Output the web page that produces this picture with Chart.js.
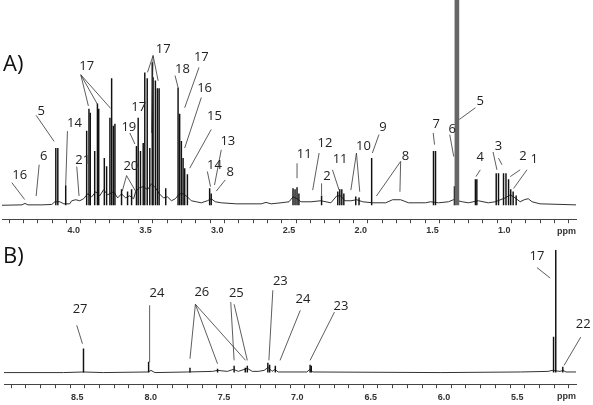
<!DOCTYPE html>
<html>
<head>
<meta charset="utf-8">
<script src="https://cdn.jsdelivr.net/npm/chart.js@4.4.0/dist/chart.umd.min.js"></script>
<style>
  html, body { margin: 0; padding: 0; background: #fff; }
  #wrap { position: relative; width: 593px; height: 405px; overflow: hidden; }
  canvas { position: absolute; left: 0; }
  #specA { top: 0; }
  #specB { top: 240px; }
  .tag { position: absolute; left: 3px; font: 22px 'Open Sans', sans-serif; line-height: 1; color: #111; }
</style>
</head>
<body>
<div id="wrap">
  <canvas id="specA" width="593" height="240"></canvas>
  <canvas id="specB" width="593" height="169"></canvas>
  <div class="tag" style="top:51px">A)</div>
  <div class="tag" style="top:243px">B)</div>
</div>
<script>
// ---- Panel A: aliphatic region (4.5 - 0.5 ppm) ----
const A_TICK_LABELS = ['4.0', '3.5', '3.0', '2.5', '2.0', '1.5', '1.0'];

// baseline trace (ppm, intensity)
const A_BASE_PPM = [
  4.500, 4.361, 4.340, 4.319, 4.222, 4.153, 4.132, 4.097, 4.069, 4.028,
  4.014, 3.986, 3.958, 3.931, 3.903, 3.875, 3.847, 3.819, 3.792, 3.764,
  3.722, 3.694, 3.667, 3.639, 3.611, 3.583, 3.569, 3.542, 3.514, 3.486,
  3.458, 3.431, 3.403, 3.375, 3.347, 3.319, 3.292, 3.264, 3.236, 3.208,
  3.181, 3.146, 3.111, 3.069, 3.042, 3.014, 2.972, 2.868, 2.694, 2.660,
  2.625, 2.556, 2.500, 2.472, 2.444, 2.417, 2.347, 2.278, 2.208, 2.167,
  2.139, 2.111, 2.069, 2.028, 1.986, 1.917, 1.826, 1.778, 1.722, 1.667,
  1.549, 1.514, 1.458, 1.389, 1.354, 1.292, 1.250, 1.181, 1.111, 1.063,
  0.993, 0.958, 0.924, 0.889, 0.861, 0.833, 0.806, 0.750, 0.500
];
const A_BASE_INT = [
  -0.2, 0, 0.7, 0, 0, 0.2, 1.5, 1.5, 0.5, 0.5,
  2.0, 2.5, 2.0, 3.0, 5.4, 3.9, 6.4, 4.4, 7.4, 4.9,
  6.4, 3.4, 5.4, 3.4, 4.4, 3.0, 6.4, 8.4, 8.9, 7.4,
  10.3, 8.4, 5.4, 3.4, 3.9, 2.0, 3.0, 5.4, 5.4, 3.9,
  2.0, 1.5, 1.0, 2.0, 3.0, 1.5, 1.0, 0.5, 0.5, 1.2,
  0.5, 1.0, 1.5, 3.9, 3.0, 1.5, 1.5, 2.0, 1.0, 4.4,
  4.4, 2.0, 2.0, 2.5, 1.5, 1.0, 1.0, 2.5, 2.5, 1.0,
  1.0, 1.5, 1.0, 1.5, 2.5, 1.5, 1.0, 2.0, 1.0, 1.5,
  3.4, 4.9, 3.4, 1.5, 2.5, 3.0, 1.5, 0.5, 0
];

// sharp lines
const A_PEAK_PPM = [
  4.125, 4.111, 4.056, 3.910, 3.894, 3.885, 3.854, 3.835, 3.826, 3.787,
  3.771, 3.748, 3.736, 3.724, 3.713, 3.667, 3.625, 3.597, 3.563, 3.551,
  3.535, 3.516, 3.505, 3.488, 3.470, 3.453, 3.447, 3.431, 3.417, 3.405,
  3.359, 3.273, 3.262, 3.250, 3.238, 3.227, 3.208, 3.053, 3.042, 2.472,
  2.458, 2.444, 2.431, 2.273, 2.160, 2.146, 2.132, 2.118, 2.035, 2.012,
  1.924, 1.493, 1.479, 1.347, 1.201, 1.191, 1.056, 1.040, 1.005, 0.988,
  0.970, 0.955, 0.938, 0.917
];
const A_PEAK_INT = [
  27.6, 27.6, 9.4, 36.0, 46.8, 44.8, 26.1, 49.3, 46.8, 22.7,
  18.7, 42.4, 61.6, 38.4, 39.4, 7.4, 6.4, 7.4, 28.6, 42.4,
  26.1, 30.0, 64.5, 61.6, 27.6, 69.5, 62.1, 60.6, 56.7, 56.7,
  7.9, 57.1, 44.3, 31.0, 22.7, 17.7, 14.8, 7.9, 5.4, 7.9,
  7.4, 8.4, 5.4, 4.4, 6.4, 7.4, 7.4, 5.4, 3.9, 3.4,
  22.7, 26.1, 26.1, 8.9, 12.3, 12.3, 15.3, 15.3, 15.3, 15.3,
  12.3, 7.4, 6.4, 4.4
];

// off-scale line at 1.33 ppm
const A_TALL_PPM = [1.330];
const A_TALL_INT = [140];

// assignments: text, label centre, leader lines [x1,y1,x2,y2] in (ppm, intensity)
const A_LABELS = [
  { t: '16', at: [4.377, 15.1], lines: [[4.431, 10.8, 4.342, 2.6]] },
  { t: '6',  at: [4.210, 24.1], lines: [[4.241, 19.6, 4.262, 4.3]] },
  { t: '5',  at: [4.227, 46.3], lines: [[4.262, 43.7, 4.137, 31.0]] },
  { t: '14', at: [3.995, 40.5], lines: [[4.044, 36.0, 4.056, 9.7]] },
  { t: '21', at: [3.938, 22.3], lines: [[3.979, 18.7, 3.963, 4.3]] },
  { t: '17', at: [3.910, 68.0], lines: [[3.951, 63.5, 3.898, 48.3], [3.951, 63.5, 3.835, 49.1], [3.951, 63.5, 3.743, 47.1]] },
  { t: '19', at: [3.616, 38.4], lines: [[3.609, 35.1, 3.574, 29.7]] },
  { t: '17', at: [3.547, 48.3], lines: [] },
  { t: '20', at: [3.602, 19.2], lines: [[3.632, 14.3, 3.662, 6.7], [3.632, 14.3, 3.567, 6.4]] },
  { t: '17', at: [3.377, 76.2], lines: [[3.447, 72.9, 3.486, 64.7], [3.447, 72.9, 3.458, 35.1], [3.447, 72.9, 3.412, 60.6]] },
  { t: '18', at: [3.243, 66.7], lines: [[3.294, 63.1, 3.273, 57.3]] },
  { t: '17', at: [3.111, 72.4], lines: [[3.127, 67.1, 3.227, 47.4]] },
  { t: '16', at: [3.088, 57.3], lines: [[3.111, 52.4, 3.227, 27.7]] },
  { t: '15', at: [3.019, 43.7], lines: [[3.042, 36.8, 3.192, 17.9]] },
  { t: '13', at: [2.926, 31.4], lines: [[2.972, 26.9, 3.019, 9.7]] },
  { t: '14', at: [3.019, 19.6], lines: [[3.069, 16.3, 3.047, 8.9]] },
  { t: '8',  at: [2.910, 16.3], lines: [[2.944, 12.2, 3.007, 6.7]] },
  { t: '11', at: [2.394, 25.3], lines: [[2.444, 20.3, 2.444, 13.0]] },
  { t: '12', at: [2.250, 30.7], lines: [[2.290, 25.3, 2.335, 7.2]] },
  { t: '2',  at: [2.236, 14.6], lines: [[2.273, 10.5, 2.273, 4.8]] },
  { t: '11', at: [2.144, 22.8], lines: [[2.197, 17.1, 2.151, 7.2]] },
  { t: '10', at: [1.981, 29.1], lines: [[2.030, 25.3, 2.069, 7.2], [2.030, 25.3, 2.007, 6.4]] },
  { t: '9',  at: [1.845, 38.4], lines: [[1.873, 34.3, 1.919, 25.3]] },
  { t: '8',  at: [1.688, 24.1], lines: [[1.722, 21.2, 1.891, 4.3], [1.722, 21.2, 1.727, 6.4]] },
  { t: '7',  at: [1.474, 40.0], lines: [[1.495, 35.1, 1.486, 29.4]] },
  { t: '6',  at: [1.363, 37.6], lines: [[1.380, 34.3, 1.352, 23.6]] },
  { t: '5',  at: [1.167, 51.1], lines: [[1.201, 47.4, 1.313, 41.7]] },
  { t: '4',  at: [1.167, 23.6], lines: [[1.167, 17.1, 1.197, 13.8]] },
  { t: '3',  at: [1.040, 29.1], lines: [[1.078, 25.8, 1.051, 17.1], [1.040, 22.8, 1.016, 19.6]] },
  { t: '2',  at: [0.870, 24.1], lines: [[0.889, 17.1, 0.958, 13.8]] },
  { t: '1',  at: [0.792, 22.8], lines: [[0.842, 17.1, 0.935, 8.0]] },
];

// ---- Panel B: aromatic / anomeric region (9.0 - 5.1 ppm) ----
const B_TICK_LABELS = ['8.5', '8.0', '7.5', '7.0', '6.5', '6.0', '5.5'];

const B_BASE_PPM = [
  9.000, 8.594, 8.458, 8.323, 8.018, 7.998, 7.971, 7.747, 7.578, 7.544,
  7.477, 7.436, 7.402, 7.341, 7.307, 7.267, 7.226, 7.199, 7.172, 7.152,
  7.131, 6.935, 6.915, 6.894, 6.021, 5.479, 5.290, 5.263, 5.209, 5.188,
  5.168, 5.100
];
const B_BASE_INT = [
  -0.2, -0.2, 0.1, -0.2, 0.1, 0.9, -0.2, 0.1, 0.4, 0.9,
  0.4, 1.4, 0.4, 1.9, 0.4, 0.4, 0.9, 2.4, 0.4, 1.4,
  0.1, 0.1, 1.4, 0.1, -0.2, 0.1, 0.4, 0.9, 0.4, 0.9,
  0.1, 0.1
];

const B_PEAK_PPM = [8.458, 8.014, 7.732, 7.544, 7.431, 7.355, 7.341, 7.201, 7.189, 7.150, 6.913, 6.905, 5.253, 5.238, 5.190];
const B_PEAK_INT = [11.7, 5.0, 2.0, 1.5, 3.0, 2.0, 3.0, 4.5, 3.5, 3.0, 3.5, 3.0, 17.5, 60.8, 2.5];

const B_LABELS = [
  { t: '27', at: [8.481, 32.0], lines: [[8.504, 23.4, 8.465, 14.2]] },
  { t: '24', at: [7.957, 40.0], lines: [[8.007, 33.4, 8.007, 5.0]] },
  { t: '26', at: [7.651, 40.4], lines: [[7.695, 33.9, 7.732, 6.7], [7.695, 33.9, 7.544, 4.2], [7.695, 33.9, 7.353, 5.9]] },
  { t: '25', at: [7.416, 40.0], lines: [[7.454, 35.0, 7.431, 5.9], [7.431, 33.9, 7.341, 5.9]] },
  { t: '23', at: [7.116, 45.9], lines: [[7.167, 40.9, 7.194, 5.9]] },
  { t: '24', at: [6.962, 36.7], lines: [[6.980, 30.9, 7.118, 5.9]] },
  { t: '23', at: [6.703, 33.4], lines: [[6.747, 30.0, 6.913, 5.9]] },
  { t: '17', at: [5.366, 58.4], lines: [[5.366, 52.2, 5.276, 47.0]] },
  { t: '22', at: [5.051, 24.5], lines: [[5.068, 17.5, 5.181, 3.4]] },
];

const TICK_FONT = { family: "'Liberation Sans Narrow', 'Liberation Sans', Arial, sans-serif", size: 9, weight: 'bold' };
const pts = (xs, ys) => xs.map((x, i) => ({ x, y: ys[i] }));

// leader lines, assignment numbers and the "ppm" unit
function labelPlugin(items) {
  return {
    id: 'peakLabels',
    afterDatasetsDraw(chart) {
      const { ctx, chartArea } = chart;
      const x = chart.scales.x, y = chart.scales.y;
      ctx.save();
      ctx.strokeStyle = '#333';
      ctx.lineWidth = 0.8;
      for (const lab of items) {
        for (const l of lab.lines) {
          ctx.beginPath();
          ctx.moveTo(x.getPixelForValue(l[0]), y.getPixelForValue(l[1]));
          ctx.lineTo(x.getPixelForValue(l[2]), y.getPixelForValue(l[3]));
          ctx.stroke();
        }
      }
      ctx.fillStyle = '#222';
      ctx.font = "13px 'Open Sans', sans-serif";
      ctx.textAlign = 'center';
      ctx.textBaseline = 'alphabetic';
      for (const lab of items) {
        ctx.fillText(lab.t, x.getPixelForValue(lab.at[0]), y.getPixelForValue(lab.at[1]) + 4.7);
      }
      ctx.fillStyle = '#333';
      ctx.font = `bold 9px ${TICK_FONT.family}`;
      ctx.textAlign = 'right';
      ctx.fillText('ppm', chartArea.right, chartArea.bottom + 15);
      ctx.restore();
    }
  };
}

function makeSpectrum(id, o) {
  return new Chart(document.getElementById(id), {
    type: 'bar',
    data: {
      datasets: [
        { type: 'line', data: pts(o.basePpm, o.baseInt), borderColor: '#333', borderWidth: 1, pointRadius: 0, tension: 0, order: 2 },
        { type: 'bar', data: pts(o.peakPpm, o.peakInt), backgroundColor: '#111', barThickness: 0.8, grouped: false, order: 1 },
        ...(o.tallPpm ? [{ type: 'bar', data: pts(o.tallPpm, o.tallInt), backgroundColor: '#666', barThickness: 4, grouped: false, order: 0 }] : []),
      ],
    },
    options: {
      responsive: false,
      animation: false,
      devicePixelRatio: 1,
      events: [],
      layout: { padding: { left: 0, right: 17, top: 0, bottom: o.padBottom } },
      plugins: { legend: { display: false }, tooltip: { enabled: false } },
      scales: {
        x: {
          type: 'linear', reverse: true, min: o.min, max: o.max, offset: false,
          grid: { drawOnChartArea: false, drawTicks: true, tickLength: 4, color: '#444' },
          border: { display: true, color: '#444', width: 1 },
          ticks: {
            stepSize: 0.1, autoSkip: false, maxRotation: 0, padding: o.tickPad, color: '#333', font: TICK_FONT,
            callback: v => { const s = (Math.round(v * 10) / 10).toFixed(1); return o.tickLabels.includes(s) ? s : ''; },
          },
        },
        y: { display: false, min: o.yMin, max: o.yMax },
      },
    },
    plugins: [labelPlugin(o.labels)],
  });
}

makeSpectrum('specA', {
  basePpm: A_BASE_PPM, baseInt: A_BASE_INT, peakPpm: A_PEAK_PPM, peakInt: A_PEAK_INT,
  tallPpm: A_TALL_PPM, tallInt: A_TALL_INT, labels: A_LABELS, tickLabels: A_TICK_LABELS,
  min: 0.5, max: 4.5, yMin: -7, yMax: 100, padBottom: 2, tickPad: 2,
});
makeSpectrum('specB', {
  basePpm: B_BASE_PPM, baseInt: B_BASE_INT, peakPpm: B_PEAK_PPM, peakInt: B_PEAK_INT,
  labels: B_LABELS, tickLabels: B_TICK_LABELS,
  min: 5.1, max: 9.0, yMin: -6, yMax: 66, padBottom: 2, tickPad: 4,
});
</script>
</body>
</html>
